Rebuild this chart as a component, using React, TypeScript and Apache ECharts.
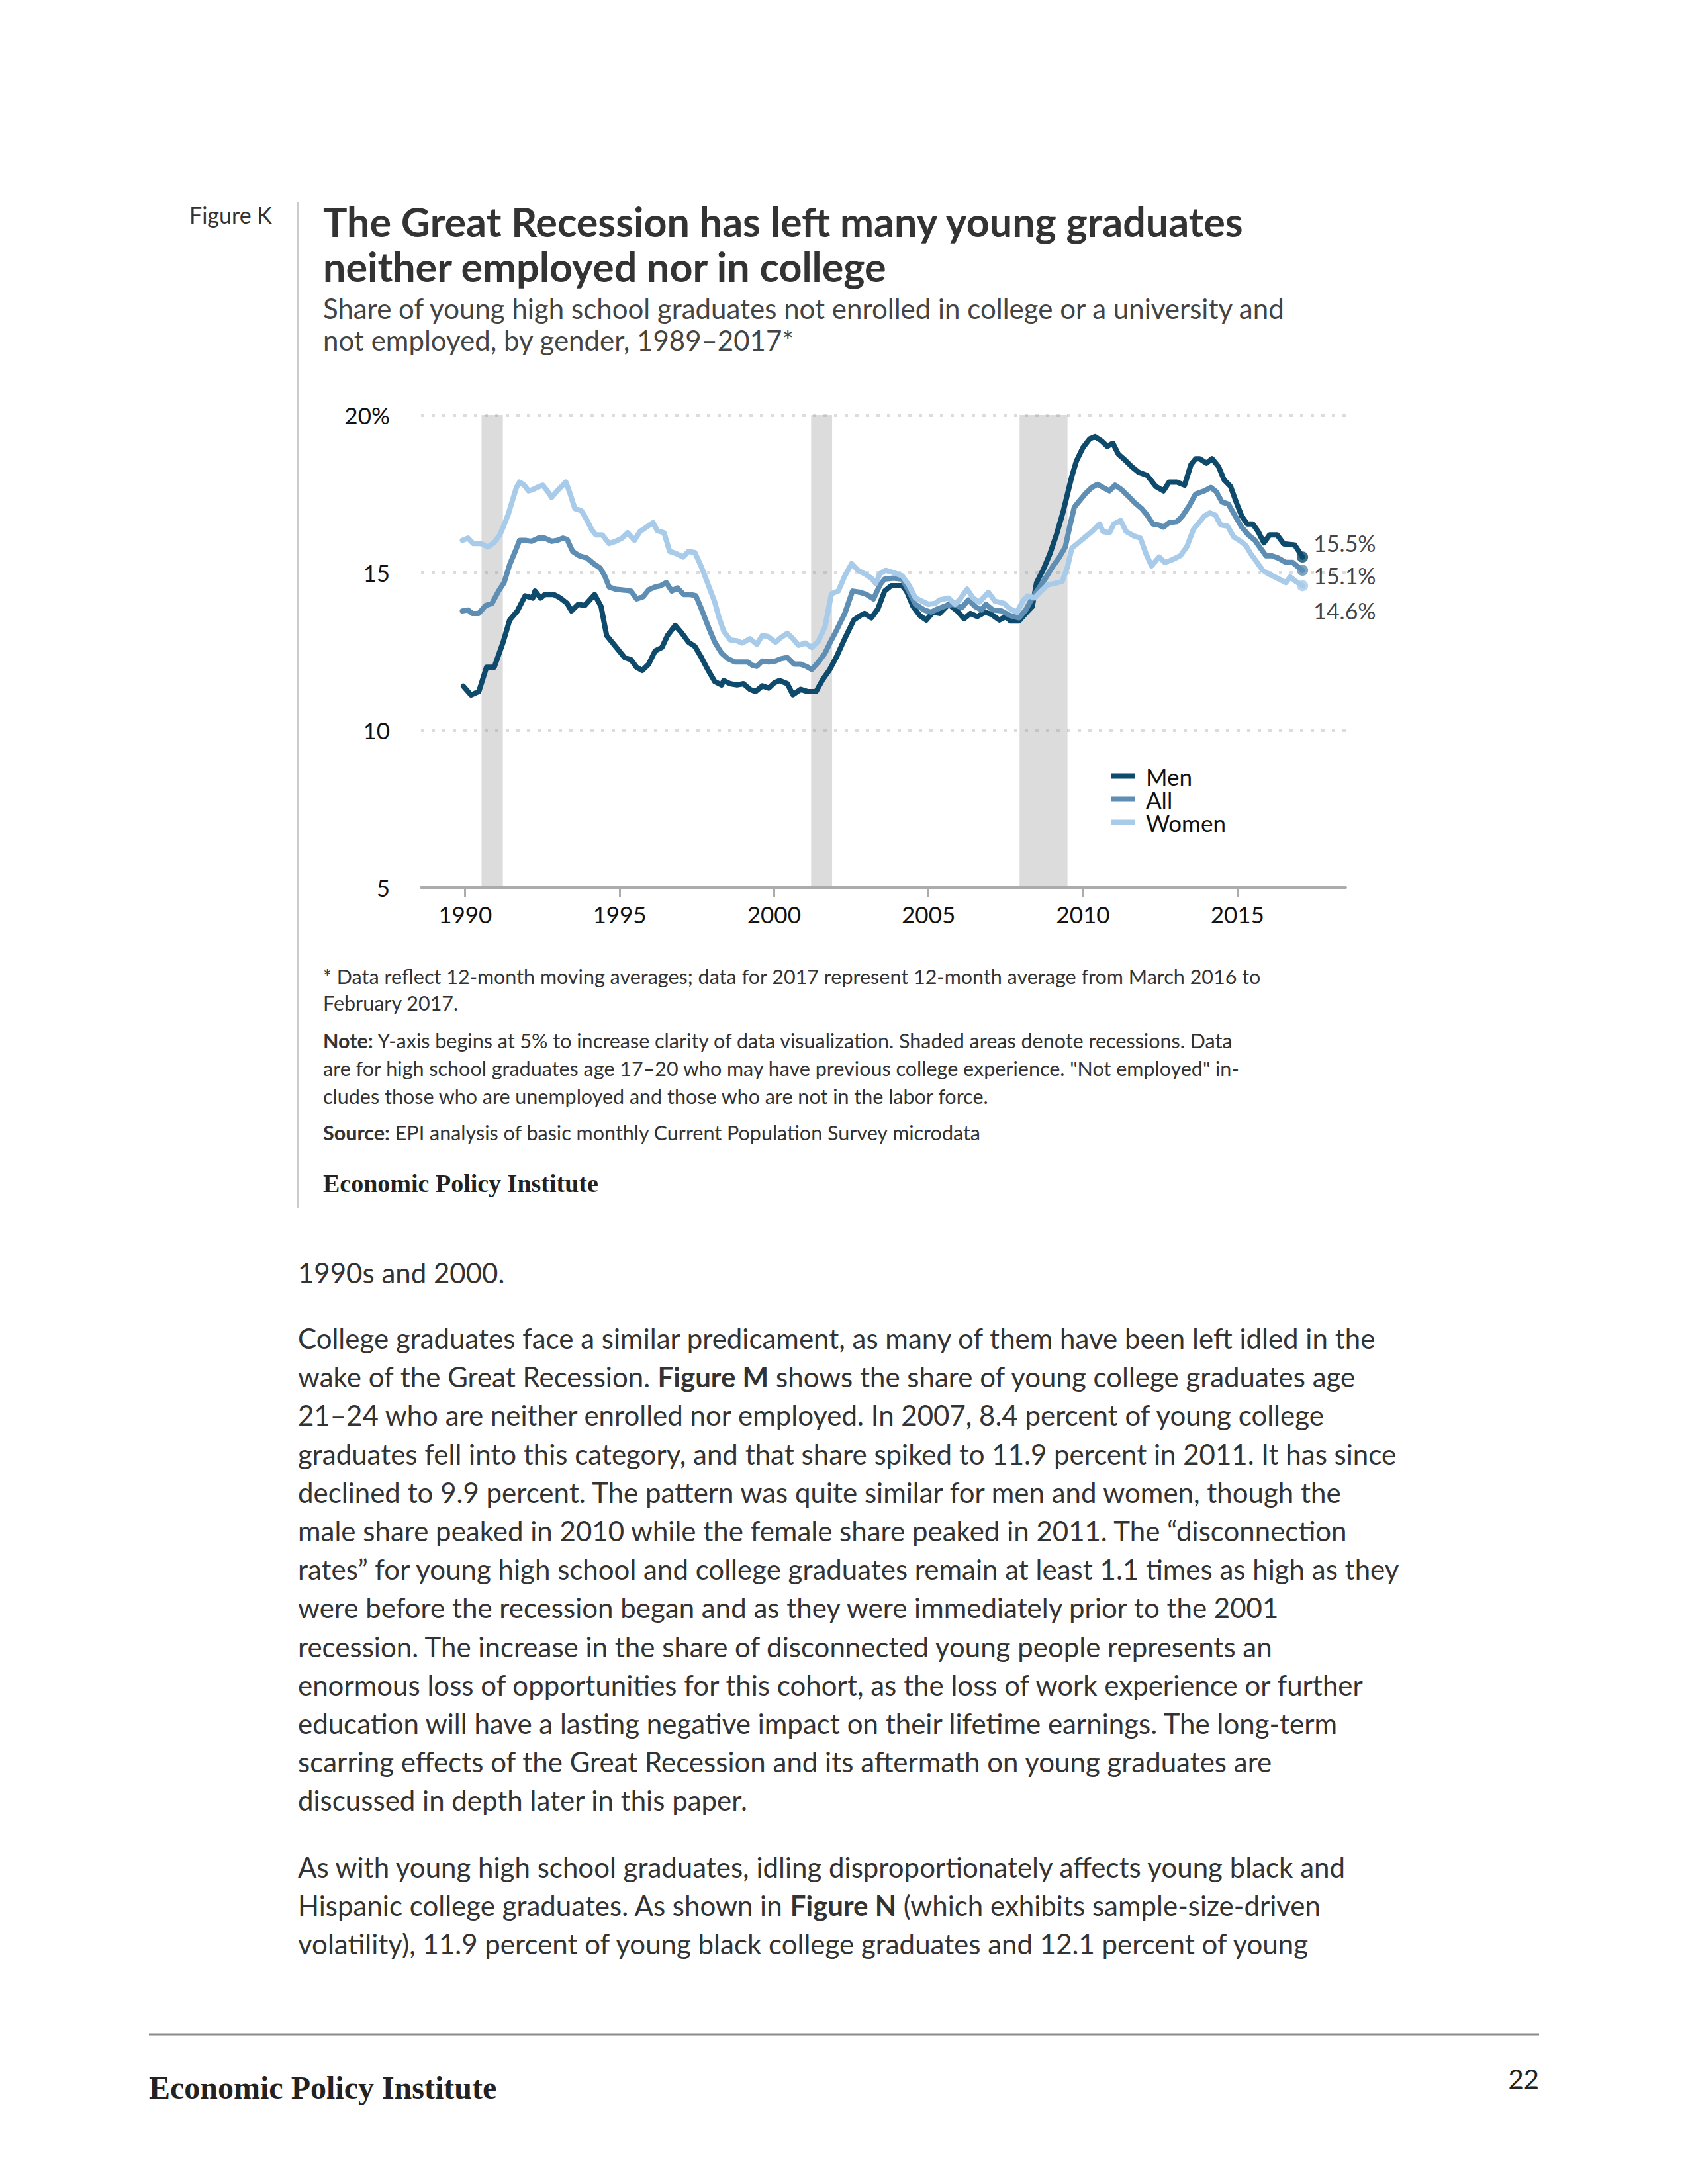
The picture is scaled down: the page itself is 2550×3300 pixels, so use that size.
import React, { useEffect, useRef } from 'react';
import * as echarts from 'echarts';

const FONT = 'Lato, "Open Sans", sans-serif';
const SERIF = '"Liberation Serif", "DejaVu Serif", serif';

const X_TICKS = [1990, 1995, 2000, 2005, 2010, 2015];
const RECESSIONS = [
  [1990.53, 1991.22],
  [2001.2, 2001.88],
  [2007.95, 2009.5],
];

const MEN = [
  [1989.94, 11.39], [1990.19, 11.11], [1990.44, 11.22], [1990.69, 11.99], [1990.94, 11.99], [1991.23, 12.79],
  [1991.44, 13.49], [1991.69, 13.78], [1991.94, 14.26], [1992.19, 14.19], [1992.26, 14.41], [1992.44, 14.19],
  [1992.58, 14.3], [1992.87, 14.3], [1993.08, 14.19], [1993.3, 14.02], [1993.44, 13.78], [1993.66, 13.99],
  [1993.87, 13.95], [1994.19, 14.3], [1994.4, 13.92], [1994.58, 13.0], [1994.87, 12.65], [1995.16, 12.3],
  [1995.37, 12.23], [1995.55, 11.99], [1995.73, 11.89], [1995.94, 12.09], [1996.15, 12.51], [1996.37, 12.62],
  [1996.55, 13.0], [1996.8, 13.32], [1997.01, 13.08], [1997.23, 12.79], [1997.44, 12.65], [1997.65, 12.3],
  [1997.87, 11.89], [1998.08, 11.54], [1998.3, 11.43], [1998.37, 11.57], [1998.58, 11.47], [1998.8, 11.43],
  [1999.01, 11.47], [1999.22, 11.29], [1999.4, 11.22], [1999.62, 11.4], [1999.83, 11.33], [2000.01, 11.5],
  [2000.18, 11.57], [2000.43, 11.47], [2000.61, 11.12], [2000.86, 11.29], [2001.08, 11.22], [2001.36, 11.22],
  [2001.58, 11.61], [2001.79, 11.9], [2002.01, 12.3], [2002.29, 12.9], [2002.58, 13.49], [2002.79, 13.63],
  [2002.93, 13.7], [2003.15, 13.56], [2003.36, 13.84], [2003.58, 14.41], [2003.79, 14.58], [2004.15, 14.58],
  [2004.29, 14.41], [2004.5, 13.92], [2004.72, 13.63], [2004.93, 13.49], [2005.15, 13.74], [2005.36, 13.7],
  [2005.65, 13.99], [2005.93, 13.78], [2006.15, 13.53], [2006.36, 13.7], [2006.58, 13.6], [2006.83, 13.74],
  [2007.04, 13.67], [2007.29, 13.49], [2007.51, 13.6], [2007.65, 13.46], [2007.93, 13.46], [2008.15, 13.7],
  [2008.36, 13.92], [2008.5, 14.68], [2008.72, 15.1], [2008.93, 15.59], [2009.15, 16.22], [2009.36, 16.93],
  [2009.5, 17.49], [2009.64, 18.05], [2009.79, 18.54], [2010.0, 18.96], [2010.22, 19.24], [2010.39, 19.31],
  [2010.61, 19.17], [2010.79, 19.0], [2010.97, 19.1], [2011.15, 18.75], [2011.36, 18.57], [2011.58, 18.36],
  [2011.79, 18.19], [2012.08, 18.08], [2012.36, 17.73], [2012.61, 17.59], [2012.79, 17.87], [2013.04, 17.87],
  [2013.29, 17.77], [2013.5, 18.43], [2013.65, 18.61], [2013.78, 18.61], [2014.0, 18.47], [2014.18, 18.61],
  [2014.39, 18.36], [2014.57, 17.94], [2014.78, 17.73], [2014.96, 17.24], [2015.14, 16.79], [2015.32, 16.54],
  [2015.5, 16.54], [2015.68, 16.29], [2015.86, 15.94], [2016.04, 16.19], [2016.29, 16.19], [2016.5, 15.91],
  [2016.86, 15.87], [2017.0, 15.66], [2017.11, 15.49],
];

const ALL = [
  [1989.91, 13.78], [1990.09, 13.81], [1990.23, 13.7], [1990.44, 13.7], [1990.66, 13.95], [1990.87, 14.02],
  [1991.08, 14.41], [1991.26, 14.68], [1991.44, 15.25], [1991.62, 15.67], [1991.76, 16.02], [1991.94, 16.02],
  [1992.15, 15.99], [1992.37, 16.09], [1992.58, 16.09], [1992.8, 15.99], [1992.98, 16.02], [1993.16, 16.09],
  [1993.3, 16.05], [1993.48, 15.67], [1993.69, 15.53], [1993.94, 15.46], [1994.16, 15.28], [1994.37, 15.14],
  [1994.52, 14.89], [1994.66, 14.54], [1994.87, 14.47], [1995.16, 14.44], [1995.37, 14.41], [1995.55, 14.16],
  [1995.76, 14.23], [1995.94, 14.45], [1996.15, 14.54], [1996.33, 14.58], [1996.51, 14.68], [1996.69, 14.41],
  [1996.87, 14.51], [1997.08, 14.3], [1997.3, 14.3], [1997.47, 14.26], [1997.65, 13.84], [1997.87, 13.28],
  [1998.08, 12.79], [1998.3, 12.44], [1998.51, 12.26], [1998.73, 12.16], [1998.94, 12.16], [1999.15, 12.16],
  [1999.3, 12.05], [1999.44, 12.02], [1999.62, 12.19], [1999.83, 12.16], [2000.05, 12.19], [2000.22, 12.26],
  [2000.43, 12.3], [2000.65, 12.09], [2000.86, 12.09], [2001.04, 12.02], [2001.22, 11.92], [2001.44, 12.16],
  [2001.65, 12.44], [2001.86, 12.86], [2002.01, 13.14], [2002.29, 13.7], [2002.54, 14.41], [2002.79, 14.37],
  [2003.0, 14.3], [2003.22, 14.16], [2003.43, 14.61], [2003.58, 14.79], [2003.86, 14.82], [2004.15, 14.79],
  [2004.36, 14.41], [2004.58, 13.99], [2004.86, 13.81], [2005.08, 13.74], [2005.29, 13.84], [2005.58, 13.95],
  [2005.79, 13.99], [2006.08, 13.88], [2006.29, 14.13], [2006.51, 13.92], [2006.72, 13.81], [2006.86, 13.99],
  [2007.08, 13.81], [2007.36, 13.78], [2007.65, 13.63], [2007.93, 13.56], [2008.15, 13.81], [2008.36, 14.19],
  [2008.58, 14.51], [2008.79, 14.82], [2009.01, 15.17], [2009.22, 15.46], [2009.43, 15.81], [2009.57, 16.44],
  [2009.72, 17.07], [2009.86, 17.24], [2010.07, 17.49], [2010.29, 17.7], [2010.47, 17.8], [2010.65, 17.7],
  [2010.86, 17.59], [2011.04, 17.77], [2011.25, 17.63], [2011.47, 17.42], [2011.68, 17.21], [2011.9, 17.03],
  [2012.08, 16.82], [2012.26, 16.54], [2012.44, 16.51], [2012.61, 16.44], [2012.79, 16.58], [2013.04, 16.61],
  [2013.22, 16.79], [2013.43, 17.1], [2013.65, 17.49], [2013.93, 17.59], [2014.14, 17.7], [2014.32, 17.56],
  [2014.5, 17.24], [2014.71, 17.17], [2014.93, 16.79], [2015.14, 16.44], [2015.36, 16.19], [2015.57, 16.02],
  [2015.75, 15.77], [2015.93, 15.53], [2016.11, 15.53], [2016.32, 15.46], [2016.57, 15.32], [2016.79, 15.32],
  [2016.96, 15.18], [2017.11, 15.07],
];

const WOMEN = [
  [1989.91, 16.02], [1990.09, 16.09], [1990.26, 15.92], [1990.51, 15.92], [1990.73, 15.81], [1990.94, 15.95],
  [1991.12, 16.19], [1991.26, 16.51], [1991.4, 16.86], [1991.55, 17.35], [1991.66, 17.7], [1991.76, 17.87],
  [1991.91, 17.77], [1992.05, 17.59], [1992.19, 17.63], [1992.33, 17.7], [1992.51, 17.77], [1992.66, 17.59],
  [1992.8, 17.38], [1992.98, 17.59], [1993.12, 17.73], [1993.26, 17.87], [1993.4, 17.49], [1993.55, 17.03],
  [1993.76, 16.96], [1993.91, 16.72], [1994.09, 16.37], [1994.23, 16.19], [1994.44, 16.19], [1994.66, 15.92],
  [1994.87, 15.99], [1995.08, 16.09], [1995.26, 16.26], [1995.48, 16.02], [1995.66, 16.3], [1995.87, 16.44],
  [1996.08, 16.58], [1996.22, 16.33], [1996.44, 16.26], [1996.62, 15.67], [1996.83, 15.6], [1997.05, 15.49],
  [1997.23, 15.67], [1997.44, 15.63], [1997.65, 15.17], [1997.87, 14.61], [1998.08, 14.06], [1998.22, 13.56],
  [1998.37, 13.14], [1998.58, 12.86], [1998.8, 12.83], [1998.97, 12.76], [1999.22, 12.9], [1999.44, 12.72],
  [1999.62, 13.0], [1999.8, 12.97], [2000.05, 12.79], [2000.22, 12.93], [2000.43, 13.07], [2000.61, 12.9],
  [2000.79, 12.69], [2001.01, 12.76], [2001.22, 12.62], [2001.44, 12.83], [2001.65, 13.28], [2001.86, 14.33],
  [2002.08, 14.41], [2002.29, 14.89], [2002.51, 15.28], [2002.72, 15.07], [2002.93, 14.96], [2003.15, 14.82],
  [2003.29, 14.65], [2003.43, 14.96], [2003.61, 15.07], [2003.86, 15.0], [2004.15, 14.89], [2004.36, 14.61],
  [2004.58, 14.19], [2004.79, 14.09], [2005.0, 13.99], [2005.22, 14.02], [2005.36, 14.13], [2005.65, 14.19],
  [2005.86, 13.99], [2006.0, 14.13], [2006.25, 14.47], [2006.44, 14.19], [2006.65, 14.06], [2006.94, 14.37],
  [2007.15, 14.09], [2007.44, 14.02], [2007.65, 13.84], [2007.86, 13.74], [2008.08, 14.13], [2008.22, 14.26],
  [2008.44, 14.19], [2008.65, 14.41], [2008.86, 14.61], [2009.08, 14.65], [2009.33, 14.72], [2009.5, 15.17],
  [2009.64, 15.77], [2009.86, 15.95], [2010.07, 16.12], [2010.29, 16.3], [2010.54, 16.54], [2010.65, 16.3],
  [2010.86, 16.26], [2011.0, 16.54], [2011.22, 16.65], [2011.4, 16.3], [2011.65, 16.16], [2011.86, 16.09],
  [2012.04, 15.6], [2012.22, 15.21], [2012.47, 15.49], [2012.65, 15.32], [2012.86, 15.39], [2013.15, 15.53],
  [2013.36, 15.81], [2013.58, 16.37], [2013.76, 16.58], [2013.93, 16.79], [2014.11, 16.89], [2014.29, 16.82],
  [2014.46, 16.51], [2014.68, 16.47], [2014.89, 16.12], [2015.11, 15.99], [2015.29, 15.84], [2015.43, 15.6],
  [2015.64, 15.32], [2015.82, 15.07], [2016.0, 14.96], [2016.21, 14.86], [2016.43, 14.75], [2016.57, 14.68],
  [2016.71, 14.86], [2016.89, 14.72], [2017.11, 14.58],
];

const SERIES = [
  { name: 'Men', data: MEN, color: '#0d4a6c', labelDy: -21 },
  { name: 'All', data: ALL, color: '#5e8eb3', labelDy: 8 },
  { name: 'Women', data: WOMEN, color: '#a9cbea', labelDy: 38 },
];

const TITLE = ['The Great Recession has left many young graduates', 'neither employed nor in college'];
const SUBTITLE = [
  'Share of young high school graduates not enrolled in college or a university and',
  'not employed, by gender, 1989–2017*',
];
const NOTES = [
  { y: 1475, t: '* Data reflect 12-month moving averages; data for 2017 represent 12-month average from March 2016 to' },
  { y: 1515, t: 'February 2017.' },
  { y: 1572, t: '{b|Note:} Y-axis begins at 5% to increase clarity of data visualization. Shaded areas denote recessions. Data' },
  { y: 1614, t: 'are for high school graduates age 17–20 who may have previous college experience. "Not employed" in-' },
  { y: 1656, t: 'cludes those who are unemployed and those who are not in the labor force.' },
  { y: 1711, t: '{b|Source:} EPI analysis of basic monthly Current Population Survey microdata' },
];
const BODY1 = ['1990s and 2000.'];
const BODY2 = [
  'College graduates face a similar predicament, as many of them have been left idled in the',
  'wake of the Great Recession. {b|Figure M} shows the share of young college graduates age',
  '21–24 who are neither enrolled nor employed. In 2007, 8.4 percent of young college',
  'graduates fell into this category, and that share spiked to 11.9 percent in 2011. It has since',
  'declined to 9.9 percent. The pattern was quite similar for men and women, though the',
  'male share peaked in 2010 while the female share peaked in 2011. The “disconnection',
  'rates” for young high school and college graduates remain at least 1.1 times as high as they',
  'were before the recession began and as they were immediately prior to the 2001',
  'recession. The increase in the share of disconnected young people represents an',
  'enormous loss of opportunities for this cohort, as the loss of work experience or further',
  'education will have a lasting negative impact on their lifetime earnings. The long-term',
  'scarring effects of the Great Recession and its aftermath on young graduates are',
  'discussed in depth later in this paper.',
];
const BODY3 = [
  'As with young high school graduates, idling disproportionately affects young black and',
  'Hispanic college graduates. As shown in {b|Figure N} (which exhibits sample-size-driven',
  'volatility), 11.9 percent of young black college graduates and 12.1 percent of young',
];

function txt(x: number, y: number, text: string, fontSize: number, extra: any = {}) {
  const { fontWeight = 'normal', fill = '#333', fontFamily = FONT, align = 'left' } = extra;
  return {
    type: 'text',
    x,
    y,
    silent: true,
    style: {
      text,
      fontSize,
      fontFamily,
      fontWeight,
      fill,
      align,
      verticalAlign: 'middle',
      rich: {
        b: { fontSize, fontFamily, fontWeight: 'bold', fill },
      },
    },
  };
}

function buildGraphics() {
  const g: any[] = [];
  g.push(txt(286, 324, 'Figure K', 34, { fill: '#333' }));
  g.push({
    type: 'line',
    silent: true,
    shape: { x1: 450, y1: 305, x2: 450, y2: 1825 },
    style: { stroke: '#cccccc', lineWidth: 2 },
  });
  TITLE.forEach((t, i) => g.push(txt(488, 334 + i * 68, t, 61, { fontWeight: 'bold', fill: '#333' })));
  SUBTITLE.forEach((t, i) => g.push(txt(488, 466 + i * 48, t, 42, { fill: '#444' })));
  NOTES.forEach((n) => g.push(txt(488, n.y, n.t, 30.5, { fill: '#333' })));
  g.push(txt(488, 1788, 'Economic Policy Institute', 38, { fontFamily: SERIF, fontWeight: 'bold', fill: '#222' }));
  BODY1.forEach((t, i) => g.push(txt(450, 1923 + i * 58.2, t, 42)));
  BODY2.forEach((t, i) => g.push(txt(450, 2022 + i * 58.2, t, 42)));
  BODY3.forEach((t, i) => g.push(txt(450, 2821 + i * 58, t, 42)));
  g.push({
    type: 'line',
    silent: true,
    shape: { x1: 225, y1: 3074, x2: 2325, y2: 3074 },
    style: { stroke: '#8a8a8a', lineWidth: 3 },
  });
  g.push(txt(225, 3154, 'Economic Policy Institute', 48, { fontFamily: SERIF, fontWeight: 'bold', fill: '#222' }));
  g.push(txt(2325, 3141, '22', 40, { align: 'right', fill: '#222' }));
  return g;
}

function buildOption() {
  const series: any[] = [
    {
      type: 'custom',
      name: 'recessions',
      silent: true,
      z: 1,
      data: RECESSIONS,
      renderItem: (_p: any, api: any) => {
        const a = api.coord([api.value(0), 20]);
        const b = api.coord([api.value(1), 5]);
        return {
          type: 'rect',
          shape: { x: a[0], y: a[1], width: b[0] - a[0], height: b[1] - a[1] },
          style: { fill: 'rgba(150,148,152,0.33)' },
        };
      },
    },
  ];
  SERIES.forEach((s) => {
    series.push({
      name: s.name,
      type: 'line',
      data: s.data,
      showSymbol: false,
      symbol: 'none',
      silent: true,
      z: 3,
      itemStyle: { color: s.color },
      lineStyle: { color: s.color, width: 8, join: 'round', cap: 'round' },
    });
  });
  SERIES.forEach((s) => {
    series.push({
      name: s.name + ' end',
      type: 'scatter',
      data: [s.data[s.data.length - 1]],
      symbolSize: 17,
      silent: true,
      z: 4,
      itemStyle: { color: s.color },
      label: {
        show: true,
        position: 'right',
        distance: 8,
        offset: [0, s.labelDy],
        formatter: (p: any) => p.value[1].toFixed(1) + '%',
        fontSize: 34,
        color: '#111',
        fontFamily: FONT,
      },
    });
  });

  return {
    animation: false,
    backgroundColor: '#ffffff',
    textStyle: { fontFamily: FONT },
    grid: { left: 636, right: 517, top: 627, bottom: 1959, containLabel: false, outerBoundsMode: 'none' },
    xAxis: {
      type: 'value',
      min: 1988.57,
      max: 2018.51,
      z: 5,
      axisLine: { show: true, lineStyle: { color: '#acacac', width: 4 } },
      axisTick: { show: true, customValues: X_TICKS, length: 15, lineStyle: { color: '#acacac', width: 3 } },
      axisLabel: {
        customValues: X_TICKS,
        formatter: (v: number) => String(Math.round(v)),
        fontSize: 35,
        color: '#111',
        margin: 22,
        fontFamily: FONT,
      },
      splitLine: { show: false },
    },
    yAxis: {
      type: 'value',
      min: 5,
      max: 20,
      interval: 5,
      axisLine: { show: false },
      axisTick: { show: false },
      axisLabel: {
        formatter: (v: number) => (v === 20 ? '20%' : String(v)),
        fontSize: 35,
        color: '#111',
        margin: 47,
        padding: [12, 0, 0, 0],
        fontFamily: FONT,
      },
      splitLine: { show: true, lineStyle: { type: [5, 11], color: '#dcdcdc', width: 5 } },
    },
    legend: {
      data: SERIES.map((s) => s.name),
      orient: 'vertical',
      left: 1678,
      top: 1155,
      itemWidth: 37,
      itemHeight: 8,
      itemGap: 0,
      icon: 'rect',
      padding: 0,
      selectedMode: false,
      textStyle: { fontSize: 35, lineHeight: 34, color: '#111', fontFamily: FONT, padding: [0, 0, 0, 11] },
    },
    graphic: buildGraphics(),
    series,
  };
}

export default function App() {
  const ref = useRef<HTMLDivElement>(null);
  useEffect(() => {
    if (!ref.current) return;
    const chart = echarts.init(ref.current, null, { renderer: 'svg', width: 2550, height: 3300 });
    chart.setOption(buildOption() as any);
    return () => chart.dispose();
  }, []);
  return (
    <div
      ref={ref}
      style={{ position: 'absolute', left: 0, top: 0, width: 2550, height: 3300, background: '#fff' }}
    />
  );
}
